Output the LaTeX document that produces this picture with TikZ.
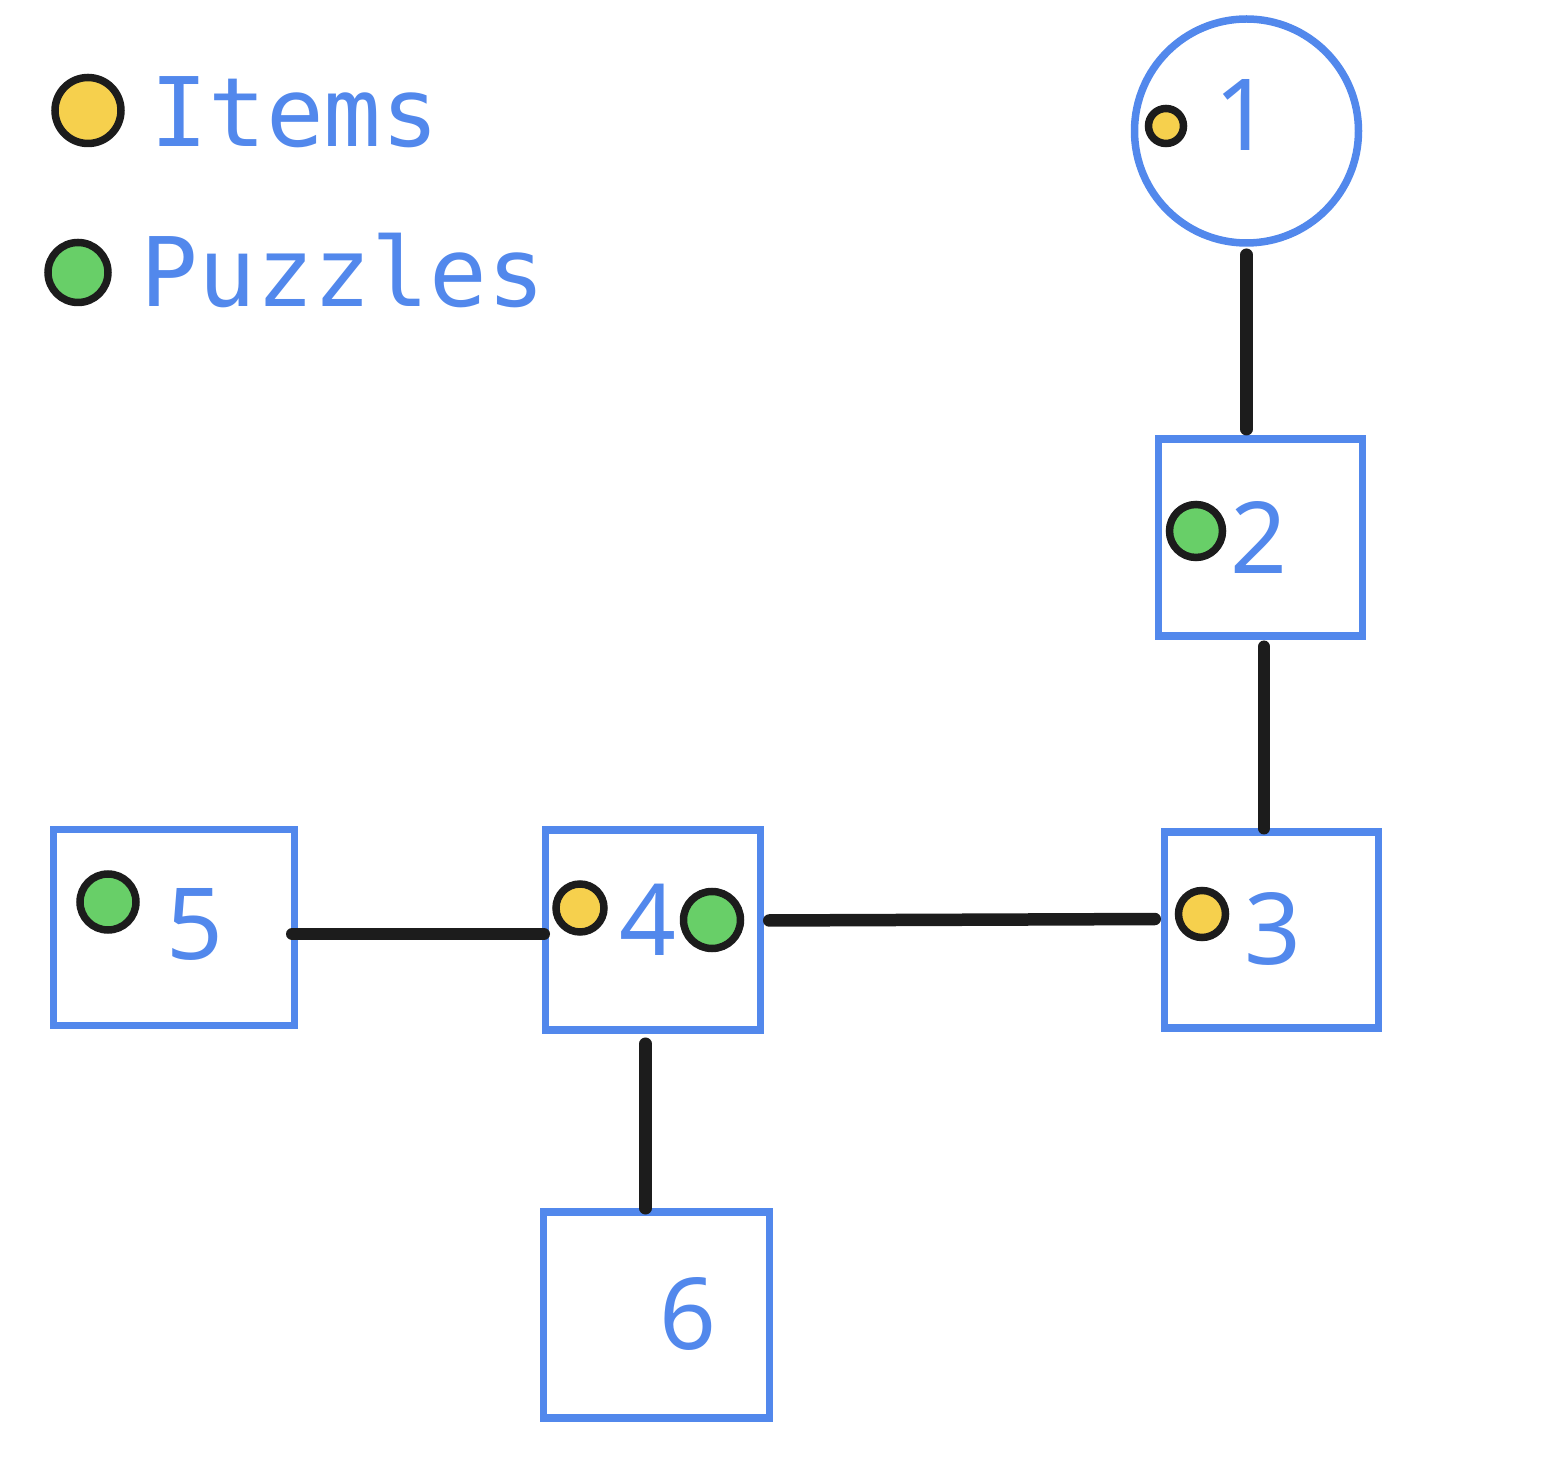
\documentclass[tikz,border=0pt]{standalone}
\usepackage{xcolor}
\usepackage{fontspec}
\setmonofont{DejaVu Sans Mono}
\setsansfont{Noto Sans}
\usepackage{tikz}
\usetikzlibrary{positioning,calc}

\definecolor{roomblue}{HTML}{5288EC}
\definecolor{itemyellow}{HTML}{F6D04D}
\definecolor{puzzlegreen}{HTML}{68CF68}
\definecolor{linkblack}{HTML}{1C1C1C}

\begin{document}
\begin{tikzpicture}[
    room/.style={draw=roomblue,line width=0.075cm,inner sep=0pt},
    dot/.style={circle,draw=linkblack,line width=0.075cm,inner sep=0pt},
    roomnum/.style={text=roomblue,inner sep=0pt,font=\sffamily\fontsize{28.3}{30}\selectfont},
    legendtxt/.style={text=roomblue,inner sep=0pt,anchor=base west,font=\ttfamily\fontsize{27.3}{30}\selectfont},
    link/.style={draw=linkblack,line width=0.125cm,line cap=round}
]
\useasboundingbox (0,0) rectangle (15.64,-14.76);

% Legend
\node[dot,fill=itemyellow,minimum size=0.66cm] (legitem) at (0.88,-1.105) {};
\node[legendtxt] (legitemtxt) at (1.50,-1.47) {Items};
\node[dot,fill=puzzlegreen,minimum size=0.60cm] (legpuzzle) at (0.78,-2.725) {};
\node[legendtxt] (legpuzzletxt) at (1.40,-3.07) {Puzzles};

% Rooms
\node[room,circle,minimum size=2.24cm] (r1) at (12.465,-1.31) {};
\foreach \n/\x/\y/\w/\h in {2/12.605/-5.375/2.04/1.97,
                            3/12.715/-9.30/2.14/1.96,
                            4/6.53/-9.30/2.15/2.00,
                            5/1.74/-9.275/2.41/1.96,
                            6/6.565/-13.15/2.26/2.06}
    \node[room,rectangle,minimum width=\w cm,minimum height=\h cm] (r\n) at (\x,\y) {};

% Room numbers
\foreach \n/\x/\y in {1/12.43/-1.15, 2/12.59/-5.37, 3/12.725/-9.29,
                      4/6.48/-9.20, 5/1.945/-9.245, 6/6.88/-13.14}
    \node[roomnum] (num\n) at (\x,\y) {\n};

% Items and puzzles
\node[dot,fill=itemyellow,minimum size=0.35cm] (item1) at (11.66,-1.26) {};
\node[dot,fill=puzzlegreen,minimum size=0.53cm] (puzzle2) at (11.96,-5.31) {};
\node[dot,fill=itemyellow,minimum size=0.47cm] (item3) at (12.02,-9.14) {};
\node[dot,fill=itemyellow,minimum size=0.48cm] (item4) at (5.80,-9.08) {};
\node[dot,fill=puzzlegreen,minimum size=0.57cm] (puzzle4) at (7.12,-9.20) {};
\node[dot,fill=puzzlegreen,minimum size=0.56cm] (puzzle5) at (1.08,-9.02) {};

% Connections
\draw[link,shorten <=0.08cm,shorten >=0.06cm] (r1.south) -- (r1.south |- r2.north);
\draw[link,shorten <=0.07cm] ([xshift=0.035cm]r2.south) -- ([xshift=0.035cm]r2.south |- r3.north);
\draw[link,shorten <=-0.06cm,shorten >=-0.02cm] ([yshift=-0.065cm]r5.east) -- ([yshift=-0.04cm]r4.west);
\draw[link,shorten <=0.05cm,shorten >=0.06cm] ([yshift=0.095cm]r4.east) -- ([yshift=0.11cm]r3.west);
\draw[link,shorten <=0.1cm,shorten >=0.0cm] ([xshift=-0.075cm]r4.south) -- ([xshift=-0.075cm]r4.south |- r6.north);
\end{tikzpicture}
\end{document}
